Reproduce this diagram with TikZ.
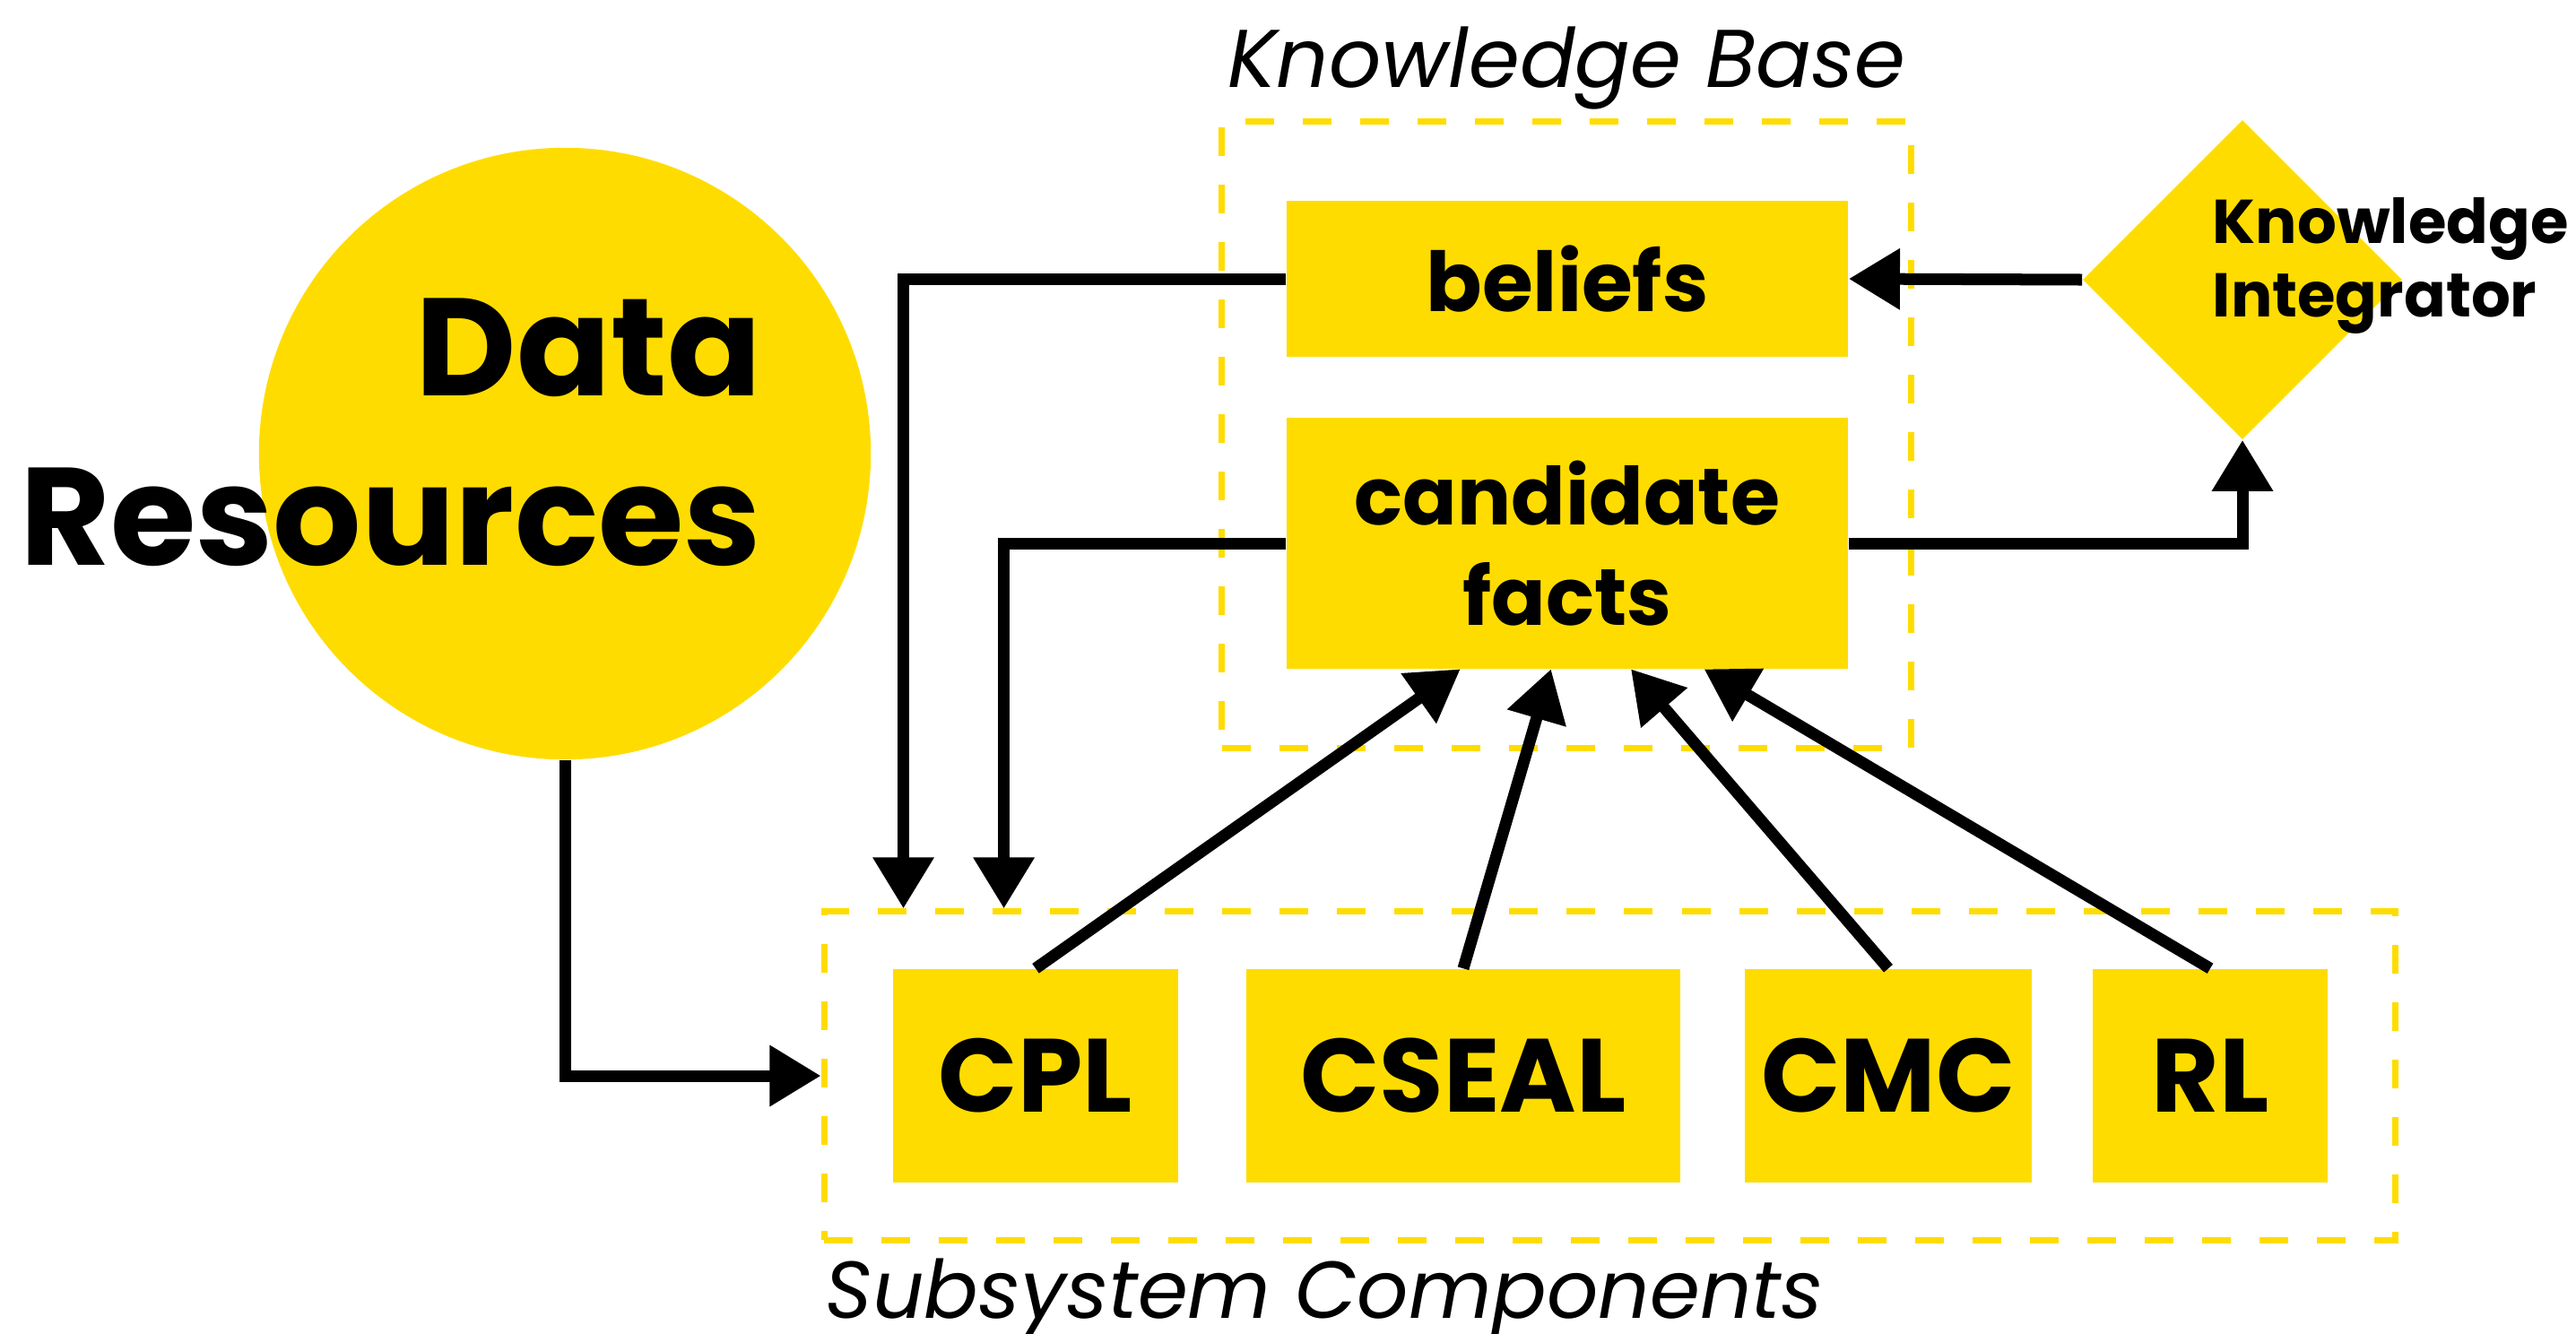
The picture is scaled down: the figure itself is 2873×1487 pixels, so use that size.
\documentclass[tikz,border=0pt]{standalone}
\usepackage{fontspec}
\setmainfont{Poppins}
\usetikzlibrary{arrows.meta,shapes.geometric,calc}
\definecolor{kbyellow}{RGB}{255,220,0}

\begin{document}
\begin{tikzpicture}[x=0.01cm,y=-0.01cm,>={Triangle[length=0.57cm,width=0.65cm]},
    box/.style={fill=kbyellow,inner sep=0pt,align=center},
    frame/.style={draw=kbyellow,line width=0.07cm,dash pattern=on 0.32cm off 0.32cm,inner sep=0pt},
    link/.style={line width=0.13cm,->}]
    \useasboundingbox (0,0) rectangle (2873,1487);
    % data resources
    \node[circle,fill=kbyellow,minimum size=6.82cm,inner sep=0pt] (data) at (630,506) {};
    \node[anchor=east,align=right,inner sep=0pt,font=\fontsize{44pt}{53.8pt}\selectfont\bfseries] (datatext) at (850,482) {Data\\Resources};
    % knowledge base
    \node[frame,minimum width=7.68cm,minimum height=6.98cm] (kb) at (1747,485) {};
    \node[anchor=base,inner sep=0pt,font=\fontsize{26pt}{30pt}\selectfont\itshape] (kbtext) at (1747,97) {Knowledge Base};
    \node[box,minimum width=6.26cm,minimum height=1.74cm,font=\fontsize{26.2pt}{31.9pt}\selectfont\bfseries] (bel) at (1748,311) {beliefs};
    \node[box,minimum width=6.26cm,minimum height=2.79cm,font=\fontsize{25.4pt}{31.9pt}\selectfont\bfseries] (facts) at (1748,606) {candidate\\facts};
    % integrator
    \node[diamond,fill=kbyellow,minimum width=3.56cm,minimum height=3.56cm,inner sep=0pt] (ki) at (2501,312) {};
    \node[anchor=west,align=left,inner sep=0pt,font=\fontsize{19.6pt}{23.3pt}\selectfont\bfseries] (kitext) at (2467,296) {Knowledge\\Integrator};
    % subsystems
    \node[frame,minimum width=17.51cm,minimum height=3.66cm] (sub) at (1795,1200) {};
    \node[anchor=base west,inner sep=0pt,font=\fontsize{25.6pt}{30pt}\selectfont\itshape] (subtext) at (920,1470) {Subsystem Components};
    \node[box,minimum width=3.17cm,minimum height=2.38cm,font=\fontsize{33pt}{38pt}\selectfont\bfseries] (cpl) at (1155,1200) {CPL};
    \node[box,minimum width=4.83cm,minimum height=2.38cm,font=\fontsize{33pt}{38pt}\selectfont\bfseries] (cseal) at (1632,1200) {CSEAL};
    \node[box,minimum width=3.19cm,minimum height=2.38cm,font=\fontsize{33pt}{38pt}\selectfont\bfseries] (cmc) at (2106,1200) {CMC};
    \node[box,minimum width=2.62cm,minimum height=2.38cm,font=\fontsize{33pt}{38pt}\selectfont\bfseries] (rl) at (2465,1200) {RL};
    % connectors
    \draw[link] (data.south) |- (sub.west);
    \draw[link] (bel.west) -| ([xshift=0.92cm]sub.north west);
    \draw[link] (facts.west) -| ([xshift=2.04cm]sub.north west);
    \draw[link] (facts.east) -| (ki.south);
    \draw[link] (ki.west) -- (bel.east);
    \draw[link] (cpl.north) -- ($(facts.south west)!0.31!(facts.south east)$);
    \draw[link] (cseal.north) -- ($(facts.south west)!0.471!(facts.south east)$);
    \draw[link] (cmc.north) -- ($(facts.south west)!0.613!(facts.south east)$);
    \draw[link] (rl.north) -- ($(facts.south west)!0.743!(facts.south east)$);
\end{tikzpicture}
\end{document}
